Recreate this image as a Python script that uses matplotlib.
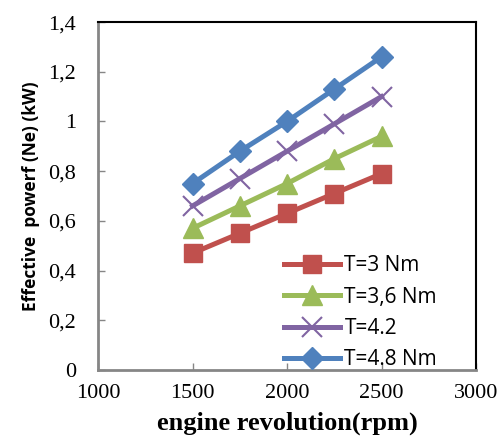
import matplotlib.pyplot as plt
from matplotlib.ticker import FuncFormatter

rpm = [1500, 1750, 2000, 2250, 2500]
ne_3 = [0.47, 0.55, 0.63, 0.71, 0.79]
ne_36 = [0.57, 0.66, 0.75, 0.85, 0.94]
ne_42 = [0.66, 0.77, 0.88, 0.99, 1.10]
ne_48 = [0.75, 0.88, 1.00, 1.13, 1.26]
labels = ['T=3 Nm', 'T=3,6 Nm', 'T=4.2', 'T=4.8 Nm']

fig = plt.figure(figsize=(5, 4.41), dpi=100)
ax = fig.add_axes([0.196, 0.161, 0.756, 0.789])

ax.plot(rpm, ne_3, color='#C0504D', lw=3.6, marker='s', ms=13, label=labels[0])
ax.plot(rpm, ne_36, color='#9BBB59', lw=3.6, marker='^', ms=14, label=labels[1])
ax.plot(rpm, ne_42, color='#8064A2', lw=3.6, marker='x', ms=14, mew=1.5, label=labels[2])
ax.plot(rpm, ne_48, color='#4F81BD', lw=3.6, marker='D', ms=11, label=labels[3])

ax.set_xlim(1000, 3000)
ax.set_ylim(0, 1.4)
ax.set_xticks([1000, 1500, 2000, 2500, 3000])
ax.set_yticks([0, 0.2, 0.4, 0.6, 0.8, 1.0, 1.2, 1.4])
ax.yaxis.set_major_formatter(FuncFormatter(lambda v, p: ('%g' % round(v, 1)).replace('.', ',')))

for s in ['left', 'bottom']:
    ax.spines[s].set_color('#868686')
    ax.spines[s].set_linewidth(2)
for s in ['top', 'right']:
    ax.spines[s].set_color('black')
    ax.spines[s].set_linewidth(1.5)

ax.tick_params(direction='in', length=5, width=1, color='#868686')
ax.tick_params(axis='x', pad=10)
ax.tick_params(axis='y', pad=16)
for t in ax.get_xticklabels() + ax.get_yticklabels():
    t.set_family('Liberation Serif')
    t.set_fontsize(16)

ax.set_xlabel('engine revolution(rpm)', family='Liberation Serif', fontweight='bold', fontsize=19, labelpad=6)
ax.set_ylabel('Effective  powerf (Ne) (kW)', family='Open Sans', fontweight='bold', fontsize=12.5, labelpad=6)

ax.legend(loc='lower left', bbox_to_anchor=(0.47, -0.025), frameon=False,
          prop={'family': 'Open Sans', 'size': 15}, handlelength=2.7,
          handletextpad=0.2, labelspacing=0.5, borderaxespad=0)

plt.savefig('out.png', dpi=100)
